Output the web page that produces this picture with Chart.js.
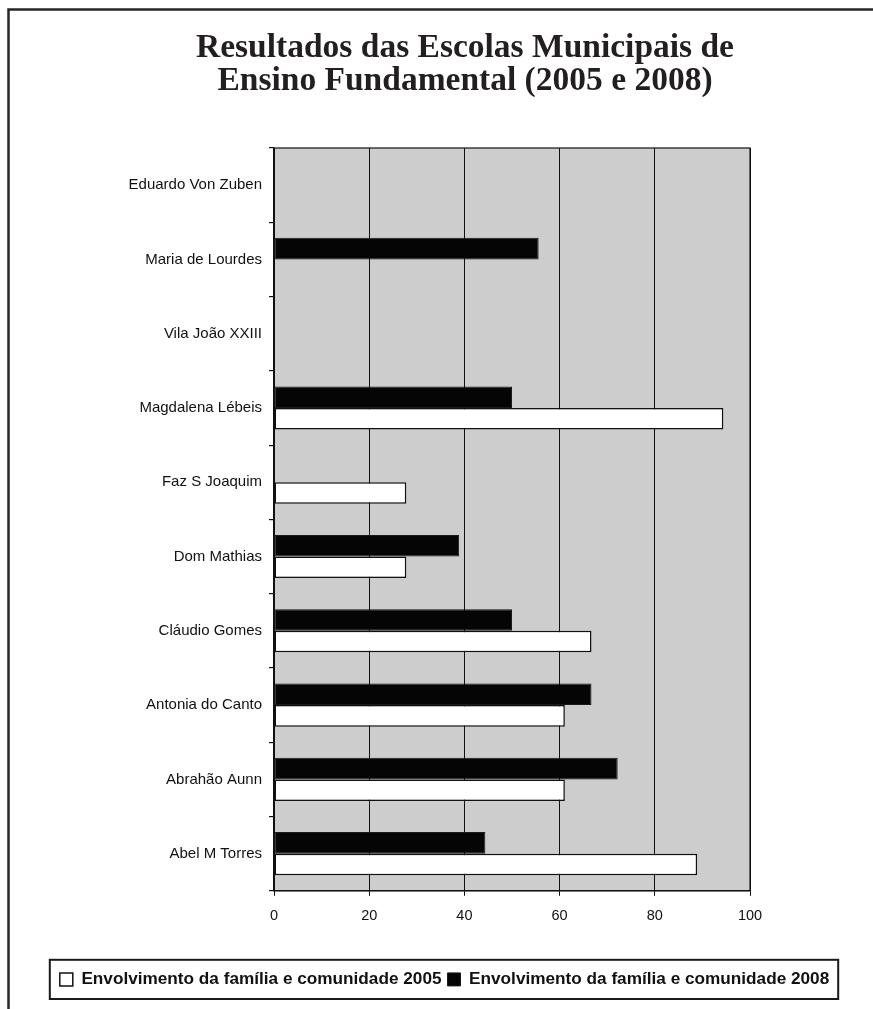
<!DOCTYPE html>
<html>
<head>
<meta charset="utf-8">
<script src="https://cdn.jsdelivr.net/npm/chart.js@4/dist/chart.umd.min.js"></script>
<style>
  html, body { margin: 0; padding: 0; background: #ffffff; }
  #wrap { width: 873px; height: 1009px; position: relative; }
</style>
</head>
<body>
<div id="wrap"><canvas id="grafico" width="873" height="1009"></canvas></div>
<script>
// Escolas, de cima para baixo
const escolas = [
  'Eduardo Von Zuben',
  'Maria de Lourdes',
  'Vila João XXIII',
  'Magdalena Lébeis',
  'Faz S Joaquim',
  'Dom Mathias',
  'Cláudio Gomes',
  'Antonia do Canto',
  'Abrahão Aunn',
  'Abel M Torres'
];

// Envolvimento da família e comunidade (%)
const valores2005 = [null, null, null, 94.4, 27.8, 27.8, 66.7, 61.1, 61.1, 88.9];
const valores2008 = [null, 55.6, null, 50.0, null, 38.9, 50.0, 66.7, 72.2, 44.4];

const ticksX = [0, 20, 40, 60, 80, 100];

const titulo = ['Resultados das Escolas Municipais de', 'Ensino Fundamental (2005 e 2008)'];
const rotulo2005 = 'Envolvimento da família e comunidade 2005';
const rotulo2008 = 'Envolvimento da família e comunidade 2008';

// Moldura da página, fundo cinza da área de plotagem e caixa da legenda
const decoracao = {
  id: 'decoracao',
  afterLayout(chart) {
    // o título fica centrado um pouco à direita do centro da página
    chart.titleBlock.left = 57;
    chart.titleBlock.right = 873;
  },
  beforeDraw(chart) {
    const { ctx, chartArea: a } = chart;
    ctx.save();
    ctx.fillStyle = '#cdcdcd';
    ctx.fillRect(a.left, a.top, a.right - a.left, a.bottom - a.top);
    ctx.restore();
  },
  afterDraw(chart) {
    const { ctx, chartArea: a } = chart;
    ctx.save();
    // borda da área de plotagem
    ctx.strokeStyle = '#111';
    ctx.lineWidth = 1.2;
    ctx.strokeRect(a.left, a.top, a.right - a.left, a.bottom - a.top);
    // moldura externa
    ctx.strokeStyle = '#262626';
    ctx.lineWidth = 2.5;
    ctx.beginPath();
    ctx.moveTo(873, 9.5);
    ctx.lineTo(8.5, 9.5);
    ctx.lineTo(8.5, 1009);
    ctx.stroke();
    // caixa da legenda
    const hb = chart.legend.legendHitBoxes;
    if (hb && hb.length) {
      const l = Math.min(...hb.map(h => h.left)) - 10;
      const r = Math.max(...hb.map(h => h.left + h.width)) + 9;
      const t = Math.min(...hb.map(h => h.top)) - 11;
      const b = Math.max(...hb.map(h => h.top + h.height)) + 11;
      ctx.strokeStyle = '#1a1a1a';
      ctx.lineWidth = 2;
      ctx.strokeRect(l, t, r - l, b - t);
    }
    ctx.restore();
  }
};

new Chart(document.getElementById('grafico'), {
  type: 'bar',
  data: {
    labels: escolas,
    datasets: [
      {
        label: rotulo2008,
        data: valores2008,
        backgroundColor: '#050505',
        borderColor: '#1a1a1a',
        borderWidth: 1,
        borderSkipped: false
      },
      {
        label: rotulo2005,
        data: valores2005,
        backgroundColor: '#ffffff',
        borderColor: '#111111',
        borderWidth: 1.5,
        borderSkipped: false
      }
    ]
  },
  options: {
    indexAxis: 'y',
    responsive: false,
    devicePixelRatio: 1,
    animation: false,
    categoryPercentage: 0.58,
    barPercentage: 1.0,
    layout: { padding: { left: 16, right: 0, top: 0, bottom: 11 } },
    scales: {
      x: {
        min: 0,
        max: 100,
        afterBuildTicks(scale) { scale.ticks = ticksX.map(v => ({ value: v })); },
        afterFit(scale) { scale.height = 74; },
        grid: { color: '#111', lineWidth: 1, tickLength: 5, drawTicks: true },
        border: { display: true, color: '#111', width: 1.2 },
        ticks: {
          color: '#111',
          padding: 11,
          font: { family: "'Liberation Sans', Arial, sans-serif", size: 14.5 }
        }
      },
      y: {
        offset: true,
        afterFit(scale) { scale.width = 258; },
        grid: { offset: true, drawOnChartArea: false, drawTicks: true, tickLength: 5, color: '#111', lineWidth: 1.2 },
        border: { display: true, color: '#111', width: 1.2 },
        ticks: {
          color: '#111',
          padding: 7,
          font: { family: "'Liberation Sans', Arial, sans-serif", size: 15 }
        }
      },
      // margem à direita da área de plotagem
      margemDireita: {
        type: 'category',
        position: 'right',
        afterFit(scale) { scale.width = 123; },
        grid: { display: false, drawTicks: false },
        border: { display: false },
        ticks: { display: false }
      }
    },
    plugins: {
      title: {
        display: true,
        text: titulo,
        color: '#231f20',
        font: { family: "'Liberation Serif', 'DejaVu Serif', serif", size: 33.5, weight: 'bold', lineHeight: 0.985 },
        padding: { top: 32, bottom: 50 }
      },
      legend: {
        position: 'bottom',
        reverse: true,
        labels: {
          color: '#111',
          boxWidth: 13,
          boxHeight: 13,
          padding: 6,
          font: { family: "'Liberation Sans', Arial, sans-serif", size: 17.2, weight: 'bold' }
        }
      },
      tooltip: { enabled: false }
    }
  },
  plugins: [decoracao]
});
</script>
</body>
</html>
